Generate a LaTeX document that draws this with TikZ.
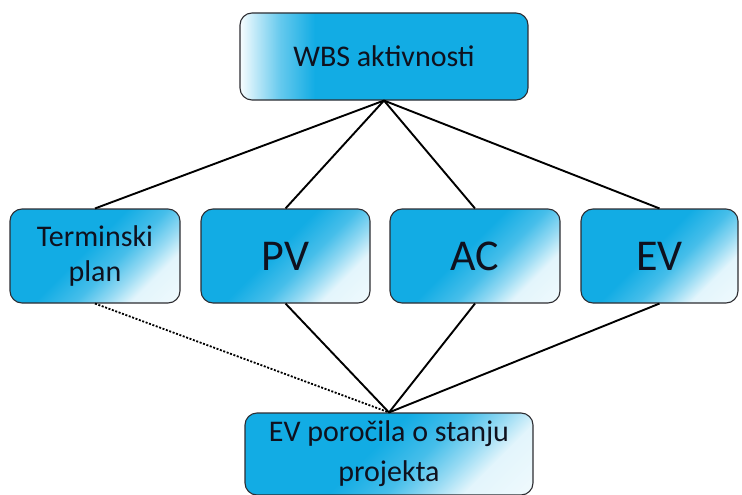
\documentclass[tikz,border=0pt]{standalone}
\usepackage{fontspec}
\setmainfont{Carlito}
\definecolor{boxblue}{RGB}{18,172,228}
\definecolor{txt}{RGB}{15,17,30}
\definecolor{edge}{RGB}{45,45,50}
\pgfdeclarehorizontalshading{topgrad}{100bp}{color(0bp)=(white); color(25bp)=(white!97!boxblue); color(28bp)=(white!70!boxblue); color(32bp)=(white!35!boxblue); color(38bp)=(boxblue); color(100bp)=(boxblue)}
\pgfdeclarehorizontalshading{diaggrad}{100bp}{color(0bp)=(boxblue); color(46bp)=(boxblue); color(57bp)=(white!22!boxblue); color(65bp)=(white!55!boxblue); color(72bp)=(white!88!boxblue); color(100bp)=(white)}
\tikzset{
  box/.style={draw=edge, line width=1.1pt, rounded corners=12pt, text=txt, align=center, inner sep=0pt},
  topbox/.style={box, shading=topgrad},
  diagbox/.style={box, shading=diaggrad, shading angle=-45},
  link/.style={line width=1.9pt, black},
  dotlink/.style={line width=1.8pt, black, dash pattern=on 2pt off 1.6pt}
}
\begin{document}
\begin{tikzpicture}[x=1pt,y=-1pt]
\useasboundingbox (0,0) rectangle (742,495);
\node[topbox, minimum width=288pt, minimum height=87pt, font=\fontsize{30}{35}\selectfont] (wbs) at (384,56.5) {WBS aktivnosti};
\node[diagbox, minimum width=170pt, minimum height=94pt, font=\fontsize{30}{35}\selectfont] (tp) at (95,256) {Terminski\\plan};
\node[diagbox, minimum width=169pt, minimum height=94pt, font=\fontsize{44}{50}\selectfont] (pv) at (285.5,256) {PV};
\node[diagbox, minimum width=170pt, minimum height=94pt, font=\fontsize{44}{50}\selectfont] (ac) at (475,256) {AC};
\node[diagbox, minimum width=157pt, minimum height=94pt, font=\fontsize{44}{50}\selectfont] (ev) at (659.5,256) {EV};
\node[diagbox, minimum width=288pt, minimum height=82pt, font=\fontsize{30}{40}\selectfont] (rep) at (389,454) {EV poročila o stanju\\projekta};
\draw[link] (wbs.south) -- (tp.north);
\draw[link] (wbs.south) -- (pv.north);
\draw[link] (wbs.south) -- (ac.north);
\draw[link] (wbs.south) -- (ev.north);
\draw[dotlink] (tp.south) -- (rep.north);
\draw[link] (pv.south) -- (rep.north);
\draw[link] (ac.south) -- (rep.north);
\draw[link] (ev.south) -- (rep.north);
\end{tikzpicture}
\end{document}
